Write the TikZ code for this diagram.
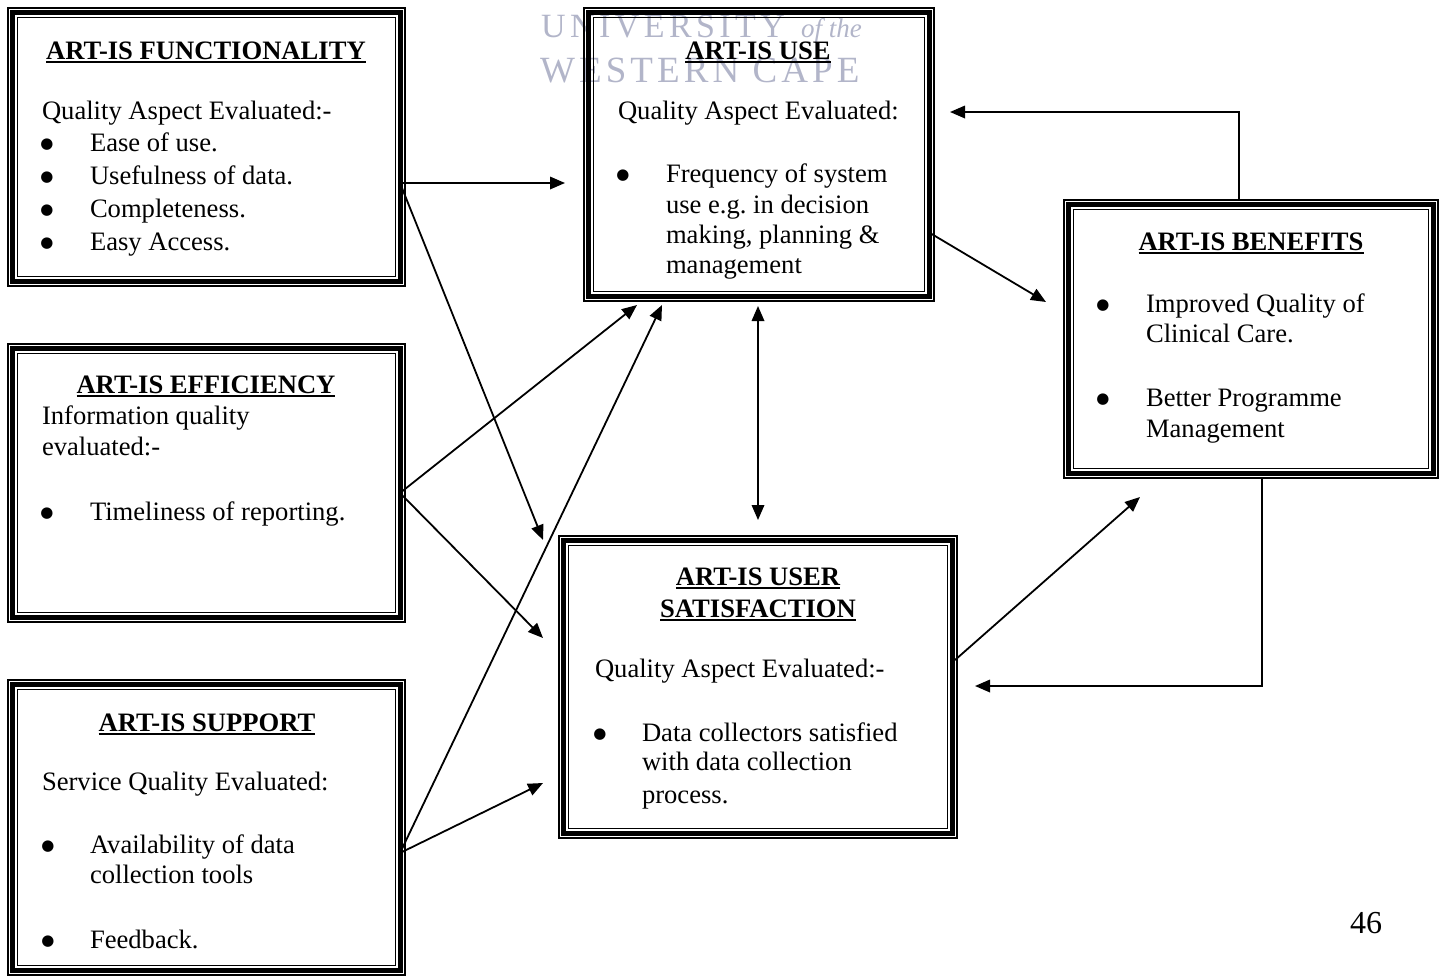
\documentclass[tikz,border=0pt]{standalone}
\usepackage{fontspec}
\setmainfont{Liberation Serif}
\newfontfamily\wmfonta[LetterSpace=13]{Liberation Serif}
\newfontfamily\wmfontb[LetterSpace=11]{Liberation Serif}
\newfontfamily\dejavu{DejaVu Sans}
\usetikzlibrary{arrows.meta,fit}
\definecolor{wm}{RGB}{178,181,201}
\frenchspacing
\newcommand\hd[1]{\setbox0\hbox{\bfseries #1}\rlap{\rule[-3.6pt]{\wd0}{1.8pt}}\box0}
\newcommand\bul{\raisebox{2.6pt}{\dejavu\fontsize{15}{15}\selectfont ●}}
\newcommand\tribox[5]{%
  \node[fit={(#2,#3)(#4,#5)}, inner sep=0pt, outer sep=0pt] (#1) {};
  \draw[line width=1.4pt] ([shift={(1,1)}]#1.north west) rectangle ([shift={(-1,-1)}]#1.south east);
  \draw[line width=4.8pt] ([shift={(5.6,5.6)}]#1.north west) rectangle ([shift={(-5.6,-5.6)}]#1.south east);
  \draw[line width=1.6pt] ([shift={(10.6,10.6)}]#1.north west) rectangle ([shift={(-10.6,-10.6)}]#1.south east);
}
\tikzset{
  txt/.style={inner sep=0pt, outer sep=0pt, font=\fontsize{26.6}{33}\selectfont},
  tl/.style={txt, anchor=base west},
  th/.style={txt, anchor=base},
  bl/.style={inner sep=0pt, outer sep=0pt, anchor=base},
  arr/.style={line width=1.8pt, -{Triangle[length=15pt,width=12.5pt]}},
  darr/.style={line width=1.8pt, {Triangle[length=15pt,width=12.5pt]}-{Triangle[length=15pt,width=12.5pt]}},
}
\begin{document}
\begin{tikzpicture}[x=1pt,y=-1pt]
\useasboundingbox (0,0) rectangle (1443,978);
% watermark
\node[inner sep=0pt, anchor=base west, text=wm, font=\wmfonta\fontsize{34}{34}\selectfont] (wm1) at (541,37) {UNIVERSITY};
\node[inner sep=0pt, anchor=base west, text=wm, font=\itshape\fontsize{27}{27}\selectfont] (wm2) at (801,37) {of the};
\node[inner sep=0pt, anchor=base west, text=wm, font=\wmfontb\fontsize{37}{37}\selectfont] (wm3) at (540,82) {WESTERN CAPE};

% boxes
\tribox{func}{7}{7}{406}{287}
\tribox{use}{583}{7}{935}{302}
\tribox{ben}{1063}{199}{1439}{479}
\tribox{eff}{7}{343}{406}{623}
\tribox{sup}{7}{679}{406}{976}
\tribox{sat}{558}{535}{958}{839}

% functionality
\node[th] (fh) at (206,59) {\hd{ART-IS FUNCTIONALITY}};
\node[tl] (fq) at (42,119) {Quality Aspect Evaluated:-};
\node[bl] (fb1) at (47,151) {\bul};
\node[tl] (ft1) at (90,151) {Ease of use.};
\node[bl] (fb2) at (47,184) {\bul};
\node[tl] (ft2) at (90,184) {Usefulness of data.};
\node[bl] (fb3) at (47,217) {\bul};
\node[tl] (ft3) at (90,217) {Completeness.};
\node[bl] (fb4) at (47,250) {\bul};
\node[tl] (ft4) at (90,250) {Easy Access.};

% use
\node[th] (uh) at (758,59) {\hd{ART-IS USE}};
\node[tl] (uq) at (618,119) {Quality Aspect Evaluated:};
\node[bl] (ub1) at (623,182) {\bul};
\node[tl] (ut1) at (666,182) {Frequency of system};
\node[tl] (ut2) at (666,213) {use e.g. in decision};
\node[tl] (ut3) at (666,243) {making, planning \&};
\node[tl] (ut4) at (666,273) {management};

% benefits
\node[th] (bh) at (1251,250) {\hd{ART-IS BENEFITS}};
\node[bl] (bb1) at (1103,312) {\bul};
\node[tl] (bt1) at (1146,312) {Improved Quality of};
\node[tl] (bt2) at (1146,342) {Clinical Care.};
\node[bl] (bb2) at (1103,406) {\bul};
\node[tl] (bt3) at (1146,406) {Better Programme};
\node[tl] (bt4) at (1146,437) {Management};

% efficiency
\node[th] (eh) at (206,393) {\hd{ART-IS EFFICIENCY}};
\node[tl] (eq1) at (42,424) {Information quality};
\node[tl] (eq2) at (42,455) {evaluated:-};
\node[bl] (eb1) at (47,520) {\bul};
\node[tl] (et1) at (90,520) {Timeliness of reporting.};

% support
\node[th] (sh) at (207,731) {\hd{ART-IS SUPPORT}};
\node[tl] (sq) at (42,790) {Service Quality Evaluated:};
\node[bl] (sb1) at (48,853) {\bul};
\node[tl] (st1) at (90,853) {Availability of data};
\node[tl] (st2) at (90,883) {collection tools};
\node[bl] (sb2) at (48,948) {\bul};
\node[tl] (st3) at (90,948) {Feedback.};

% user satisfaction
\node[th] (ah1) at (758,585) {\hd{ART-IS USER}};
\node[th] (ah2) at (758,617) {\hd{SATISFACTION}};
\node[tl] (aq) at (595,677) {Quality Aspect Evaluated:-};
\node[bl] (ab1) at (600,741) {\bul};
\node[tl] (at1) at (642,741) {Data collectors satisfied};
\node[tl] (at2) at (642,770) {with data collection};
\node[tl] (at3) at (642,803) {process.};

% page number
\node[inner sep=0pt, anchor=base, font=\fontsize{32}{32}\selectfont] (pg) at (1366,933) {46};

% connectors
\draw[arr] ([shift={(-6,36)}]func.east) -- ([shift={(-18,28.5)}]use.west);
\draw[arr] ([shift={(-6,36)}]func.east) -- ([shift={(-15,5)}]sat.north west);
\draw[arr] ([shift={(-6,10)}]eff.east) -- ([shift={(54,3)}]use.south west);
\draw[arr] ([shift={(-6,10)}]eff.east) -- ([shift={(-15,-49)}]sat.west);
\draw[arr] ([shift={(-6,25.5)}]sup.east) -- ([shift={(79,3)}]use.south west);
\draw[arr] ([shift={(-6,25.5)}]sup.east) -- ([shift={(-15,96)}]sat.west);
\draw[darr] ([shift={(-1,4)}]use.south) -- ([shift={(0,-15)}]sat.north);
\draw[arr] ([shift={(-5,78.5)}]use.east) -- ([shift={(-17,-37)}]ben.west);
\draw[arr] ([shift={(176,0)}]ben.north west) |- ([shift={(15,-42.5)}]use.east);
\draw[arr] ([shift={(-3,-27)}]sat.east) -- ([shift={(77,18)}]ben.south west);
\draw[arr] ([shift={(199,0)}]ben.south west) |- ([shift={(17,-1)}]sat.east);
\end{tikzpicture}
\end{document}
